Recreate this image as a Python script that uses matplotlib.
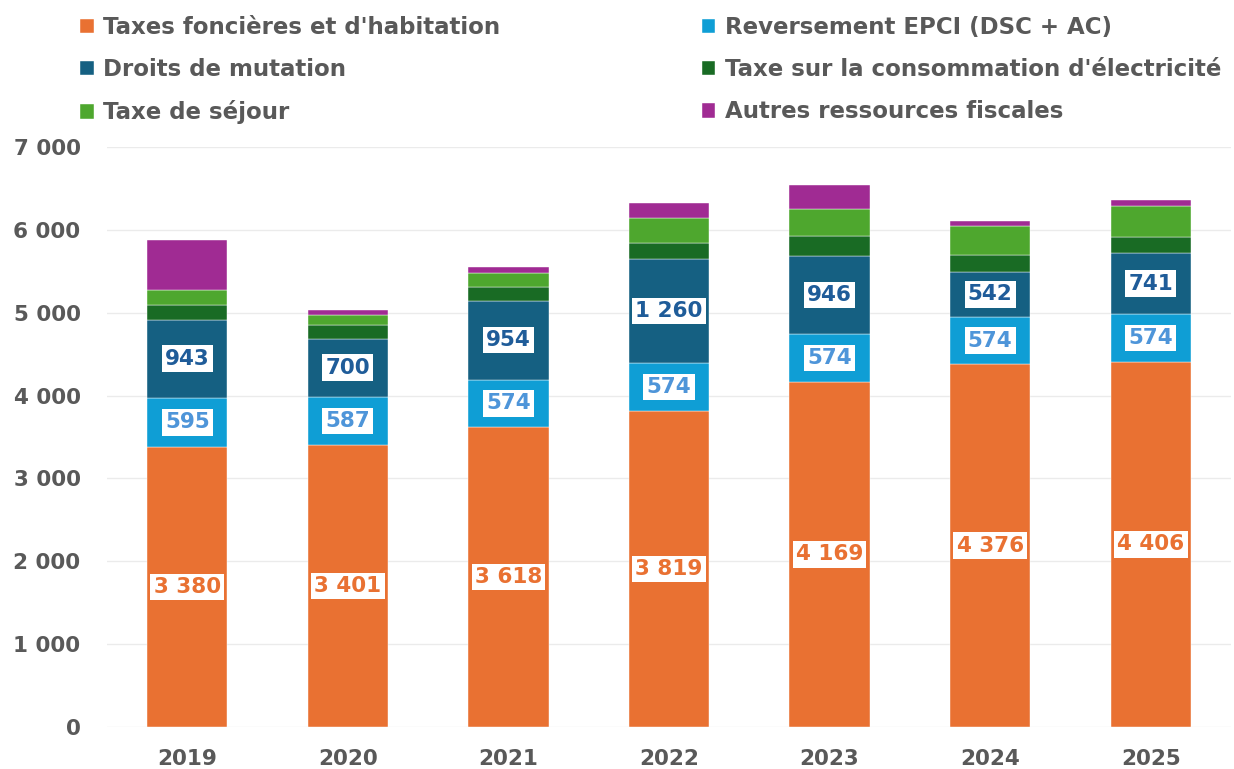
import numpy as np
import matplotlib.pyplot as plt
from matplotlib.ticker import FuncFormatter

plt.rcParams['font.family'] = ['DejaVu Sans']

# data
years = ['2019', '2020', '2021', '2022', '2023', '2024', '2025']
taxes_fonc = [3380, 3401, 3618, 3819, 4169, 4376, 4406]
reversement = [595, 587, 574, 574, 574, 574, 574]
droits_mut = [943, 700, 954, 1260, 946, 542, 741]
taxe_elec = [174, 167, 167, 184, 240, 200, 196]
taxe_sejour = [182, 113, 162, 310, 319, 358, 367]
autres = [603, 64, 80, 173, 297, 57, 73]

names = ["Taxes foncières et d'habitation", 'Reversement EPCI (DSC + AC)',
         'Droits de mutation', "Taxe sur la consommation d'électricité",
         'Taxe de séjour', 'Autres ressources fiscales']
series = [taxes_fonc, reversement, droits_mut, taxe_elec, taxe_sejour, autres]
colors = ['#E97132', '#0F9ED5', '#156082', '#196B24', '#4EA72E', '#A02B93']
label_colors = {0: '#E97132', 1: '#4E95D9', 2: '#1F5C99'}

grey = '#595959'
fig = plt.figure(figsize=(12.34, 7.69), dpi=100)
ax = fig.add_axes([107 / 1234, 42 / 769, 1124 / 1234, 580 / 769])

x = np.arange(len(years))
bottom = np.zeros(len(years))
bars = []
for i, (vals, col) in enumerate(zip(series, colors)):
    vals = np.array(vals, dtype=float)
    b = ax.bar(x, vals, 0.5, bottom=bottom, color=col, label=names[i],
               edgecolor='white', linewidth=0.3, zorder=2)
    bars.append(b)
    if i in label_colors:
        for xi, v, b0 in zip(x, vals, bottom):
            txt = f'{int(v):,}'.replace(',', ' ')
            ax.text(xi, b0 + v / 2, txt, ha='center', va='center',
                    fontsize=15.5, fontweight='bold', color=label_colors[i],
                    bbox=dict(boxstyle='square,pad=0.15', fc='white', ec='none'),
                    zorder=3)
    bottom += vals

ax.set_xlim(-0.5, 6.5)
ax.set_ylim(0, 7000)
ax.set_yticks(np.arange(0, 7001, 1000))
ax.yaxis.set_major_formatter(FuncFormatter(lambda v, p: f'{int(v):,}'.replace(',', ' ')))
ax.set_xticks(x)
ax.set_xticklabels(years)
ax.grid(axis='y', color='#EBEBEB', linewidth=1, zorder=0)
for s in ax.spines.values():
    s.set_visible(False)
ax.tick_params(axis='both', length=0, labelsize=15.5, labelcolor=grey)
ax.tick_params(axis='y', pad=19)
ax.tick_params(axis='x', pad=16)
for lbl in ax.get_xticklabels() + ax.get_yticklabels():
    lbl.set_fontweight('bold')

# legend: column order for ncol=2
order = [0, 2, 4, 1, 3, 5]
handles = [bars[k] for k in order]
labels = [names[k] for k in order]
leg = fig.legend(handles, labels, loc='upper left', bbox_to_anchor=(80 / 1234, 1 - 16 / 769),
                 ncol=2, frameon=False, borderpad=0, borderaxespad=0,
                 handlelength=0.6, handleheight=0.6, handletextpad=0.4,
                 columnspacing=8.8, labelspacing=0.84,
                 prop={'size': 16.5, 'weight': 'bold'})
for t in leg.get_texts():
    t.set_color(grey)

fig.savefig('out.png', dpi=100)
